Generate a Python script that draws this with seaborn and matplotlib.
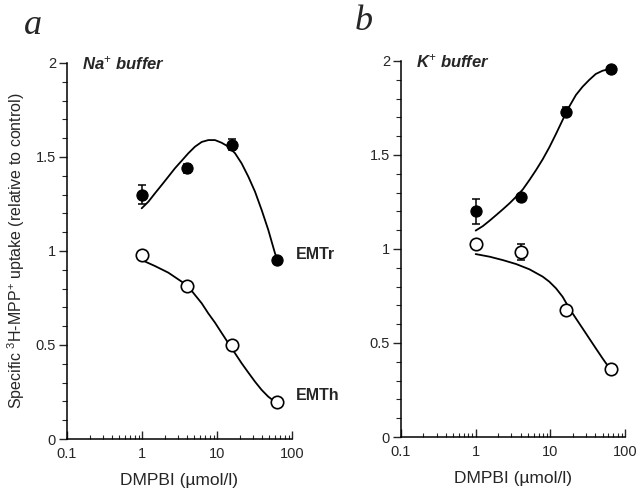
import numpy as np
import pandas as pd
import matplotlib
matplotlib.use("Agg")
import matplotlib.pyplot as plt
import seaborn as sns
from matplotlib.ticker import LogLocator, MultipleLocator, FixedLocator, FixedFormatter

sns.set_style("ticks")
plt.rcParams['font.family'] = ['Liberation Sans', 'DejaVu Sans']
plt.rcParams['mathtext.fontset'] = 'custom'
plt.rcParams['mathtext.rm'] = 'Liberation Sans'
plt.rcParams['mathtext.it'] = 'Liberation Sans:italic'
plt.rcParams['mathtext.bf'] = 'Liberation Sans:bold'

# ---------------- data ----------------
conc = [1, 4, 16, 64]

# Panel a (Na+ buffer)
a_emtr = [1.30, 1.44, 1.565, 0.952]
a_emtr_err = [0.05, 0.025, 0.03, 0.0]
a_emth = [0.978, 0.814, 0.50, 0.197]
a_emth_err = [0.02, 0.0, 0.0, 0.0]

# Panel b (K+ buffer)
b_emtr = [1.20, 1.277, 1.73, 1.957]
b_emtr_err = [0.065, 0.015, 0.025, 0.0]
b_emth = [1.027, 0.984, 0.676, 0.362]
b_emth_err = [0.0, 0.04, 0.0, 0.0]

# fitted curves
a_fit_r_x = [0.99, 1.215, 1.49, 1.83, 2.24, 2.75, 3.38, 4.15, 5.09, 6.25, 7.66, 9.4,
             11.5, 14.2, 17.4, 21.3, 26.2, 32.1, 39.4, 48.3, 59.3, 64.4]
a_fit_r_y = [1.227, 1.262, 1.307, 1.351, 1.395, 1.44, 1.48, 1.52, 1.555, 1.58, 1.59, 1.59,
             1.576, 1.555, 1.52, 1.466, 1.395, 1.316, 1.218, 1.112, 0.988, 0.952]
a_fit_h_x = [0.99, 1.49, 2.24, 3.38, 4.15, 5.09, 6.25, 7.66, 9.4, 11.5, 14.2, 17.4,
             21.3, 26.2, 32.1, 39.4, 48.3, 59.3]
a_fit_h_y = [0.952, 0.920, 0.885, 0.837, 0.81, 0.766, 0.722, 0.668, 0.619, 0.565, 0.509,
             0.456, 0.403, 0.353, 0.305, 0.261, 0.225, 0.198]
b_fit_r_x = [1.0, 1.25, 1.54, 1.89, 2.31, 2.84, 3.48, 4.28, 5.25, 6.44, 7.9, 9.7, 11.9,
             14.6, 17.9, 22.0, 27.0, 33.1, 40.6, 49.9, 59.9]
b_fit_r_y = [1.098, 1.122, 1.151, 1.181, 1.211, 1.243, 1.278, 1.317, 1.367, 1.42, 1.477,
             1.541, 1.612, 1.686, 1.757, 1.819, 1.863, 1.899, 1.931, 1.948, 1.956]
b_fit_h_x = [1.0, 1.54, 2.31, 3.48, 5.25, 7.9, 9.7, 11.9, 14.6, 17.9, 22.0, 27.0, 33.1,
             40.6, 49.9, 59.9]
b_fit_h_y = [0.973, 0.959, 0.941, 0.920, 0.892, 0.853, 0.826, 0.791, 0.746, 0.685, 0.631,
             0.578, 0.525, 0.472, 0.419, 0.374]

x_ticks = [0.1, 1, 10, 100]
x_ticklabels = ["0.1", "1", "10", "100"]
y_ticks = [0, 0.5, 1, 1.5, 2]
y_ticklabels = ["0", "0.5", "1", "1.5", "2"]

fig = plt.figure(figsize=(6.4, 4.94), dpi=100)
ax_a = fig.add_axes([67/640, 1-439/494, 225/640, 376/494])
ax_b = fig.add_axes([401/640, 1-437/494, 224/640, 376/494])

def draw_panel(ax, r, r_err, h, h_err, frx, fry, fhx, fhy, title):
    sns.lineplot(x=frx, y=fry, ax=ax, color='black', lw=1.3, estimator=None, sort=False)
    sns.lineplot(x=fhx, y=fhy, ax=ax, color='black', lw=1.3, estimator=None, sort=False)
    ax.errorbar(conc, r, yerr=r_err, fmt='none', ecolor='black', elinewidth=1.1,
                capsize=3, capthick=1.1, zorder=3, clip_on=False)
    ax.errorbar(conc, h, yerr=h_err, fmt='none', ecolor='black', elinewidth=1.1,
                capsize=3, capthick=1.1, zorder=3, clip_on=False)
    sns.scatterplot(x=conc, y=r, ax=ax, color='black', edgecolor='black', s=65,
                    linewidth=0.8, zorder=4, clip_on=False)
    sns.scatterplot(x=conc, y=h, ax=ax, color='white', edgecolor='black', s=80,
                    linewidth=1.2, zorder=4, clip_on=False)
    ax.set_xscale('log')
    ax.set_xlim(0.1, 100)
    ax.set_ylim(0, 2)
    ax.xaxis.set_major_locator(FixedLocator(x_ticks))
    ax.xaxis.set_major_formatter(FixedFormatter(x_ticklabels))
    ax.xaxis.set_minor_locator(LogLocator(base=10, subs=np.arange(2, 10)))
    ax.yaxis.set_major_locator(FixedLocator(y_ticks))
    ax.yaxis.set_major_formatter(FixedFormatter(y_ticklabels))
    ax.yaxis.set_minor_locator(MultipleLocator(0.1))
    ax.tick_params(axis='x', which='major', direction='in', length=6, width=1.0,
                   labelsize=10.5, pad=6)
    ax.tick_params(axis='x', which='minor', direction='in', length=3, width=0.8)
    ax.tick_params(axis='y', which='major', direction='out', length=6, width=1.0,
                   labelsize=10.5, pad=2)
    ax.tick_params(axis='y', which='minor', direction='out', length=3.5, width=0.8)
    sns.despine(ax=ax)
    for s in ['left', 'bottom']:
        ax.spines[s].set_linewidth(1.1)
        ax.spines[s].set_color('black')
    ax.set_xlabel("DMPBI (\u00b5mol/l)", fontsize=12.5)
    ax.xaxis.set_label_coords(0.5, -(473-439)/376)
    ax.text(0.068, 1.0, title, transform=ax.transAxes, ha='left', va='center',
            fontsize=12, fontweight='bold', style='italic')
    ax.set_facecolor('white')

draw_panel(ax_a, a_emtr, a_emtr_err, a_emth, a_emth_err,
           a_fit_r_x, a_fit_r_y, a_fit_h_x, a_fit_h_y, "Na$^{+}$ buffer")
draw_panel(ax_b, b_emtr, b_emtr_err, b_emth, b_emth_err,
           b_fit_r_x, b_fit_r_y, b_fit_h_x, b_fit_h_y, "K$^{+}$ buffer")

ax_a.set_ylabel("Specific $^{3}$H-MPP$^{+}$ uptake (relative to control)", fontsize=11.5)
ax_a.yaxis.set_label_coords(-(67-27)/225, 0.5)
ax_b.set_ylabel("")

ax_a.text((296-67)/225, 0.984, "EMTr", transform=ax_a.get_yaxis_transform(),
          ha='left', va='center', fontsize=11.5, fontweight='bold', clip_on=False)
ax_a.text((296-67)/225, 0.234, "EMTh", transform=ax_a.get_yaxis_transform(),
          ha='left', va='center', fontsize=11.5, fontweight='bold', clip_on=False)

fig.text(33/640, 1-34/494, "a", ha='center', va='baseline', fontsize=26,
         style='italic', family=['Liberation Serif', 'DejaVu Serif'])
fig.text(364/640, 1-30/494, "b", ha='center', va='baseline', fontsize=26,
         style='italic', family=['Liberation Serif', 'DejaVu Serif'])

fig.savefig("out.png", dpi=100, facecolor='white')
